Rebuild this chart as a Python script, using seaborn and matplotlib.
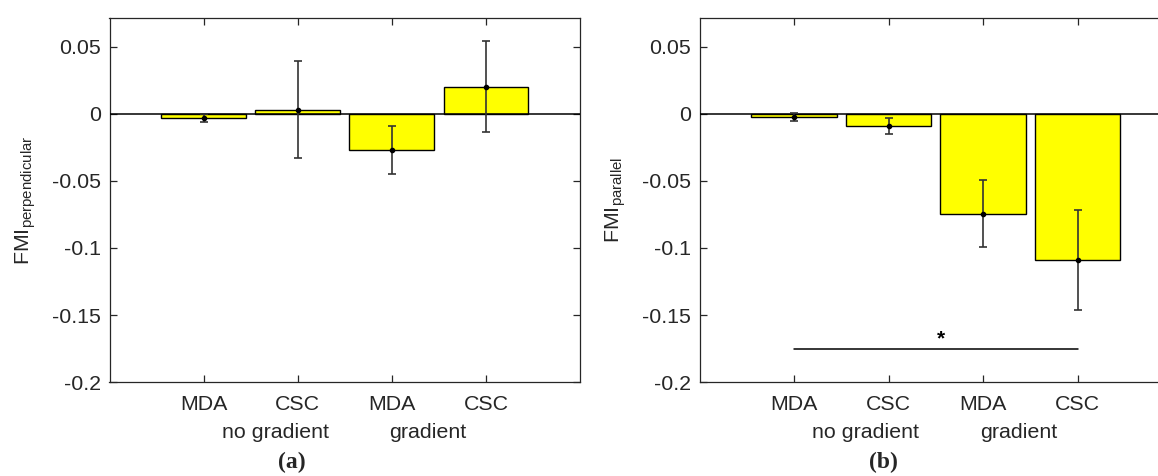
import matplotlib
matplotlib.use("Agg")
import matplotlib.pyplot as plt
import matplotlib.transforms as mtransforms
import seaborn as sns
import pandas as pd

# ---- data ----
conditions = ["MDA no gradient", "CSC no gradient", "MDA gradient", "CSC gradient"]
tick_labels = ["MDA", "CSC", "MDA", "CSC"]
group_labels = ["no gradient", "gradient"]
perp_mean = [-0.003, 0.003, -0.027, 0.020]
perp_err = [0.003, 0.036, 0.018, 0.034]
par_mean = [-0.0025, -0.009, -0.0745, -0.109]
par_err = [0.003, 0.0058, 0.025, 0.037]
ytick_vals = [0.05, 0, -0.05, -0.1, -0.15, -0.2]
ytick_text = ["0.05", "0", "-0.05", "-0.1", "-0.15", "-0.2"]
sig_span = (0, 3)
sig_y = -0.175
panel_labels = ["(a)", "(b)"]
ylabels = [r"FMI$_{\mathregular{perpendicular}}$", r"FMI$_{\mathregular{parallel}}$"]

sns.set_style("white")
plt.rcParams["font.family"] = ["Liberation Sans", "DejaVu Sans"]
plt.rcParams["mathtext.fontset"] = "custom"
plt.rcParams["mathtext.rm"] = "Liberation Sans"

W, H = 1158, 476
fig = plt.figure(figsize=(W / 100, H / 100), dpi=100)

def px_axes(l, r, t, b):
    return [l / W, 1 - b / H, (r - l) / W, (b - t) / H]

ax_a = fig.add_axes(px_axes(109.5, 580, 18.3, 382.3))
ax_b = fig.add_axes(px_axes(699.5, 1172, 18.3, 382.3))

fs = 15.4
txt_col = "#262626"
for i, (ax, means, errs) in enumerate([(ax_a, perp_mean, perp_err), (ax_b, par_mean, par_err)]):
    df = pd.DataFrame({"cond": conditions, "val": means})
    sns.barplot(data=df, x="cond", y="val", order=conditions, color="#ffff00",
                saturation=1, width=0.9, edgecolor="black", linewidth=1.0,
                errorbar=None, ax=ax, zorder=2)
    ax.axhline(0, color="black", lw=1.1, zorder=3)
    ax.errorbar(range(len(conditions)), means, yerr=errs, fmt="o", color="black",
                ecolor="#333333", elinewidth=1.2, capsize=3, capthick=1.2,
                markersize=3, zorder=4)
    ax.set_xlim(-1, 4)
    ax.set_ylim(-0.2, 0.071)
    ax.set_yticks(ytick_vals)
    ax.set_yticklabels(ytick_text)
    ax.set_xticks(range(len(conditions)))
    ax.set_xticklabels(tick_labels)
    ax.set_xlabel("")
    ax.set_ylabel(ylabels[i], fontsize=fs, color=txt_col, labelpad=10)
    ax.tick_params(axis="both", direction="in", length=5, width=0.9, colors=txt_col,
                   labelsize=fs, top=True, right=True, bottom=True, left=True)
    ax.tick_params(axis="x", pad=9)
    ax.tick_params(axis="y", pad=6)
    for s in ax.spines.values():
        s.set_visible(True)
        s.set_color(txt_col)
        s.set_linewidth(0.9)
    trans = mtransforms.blended_transform_factory(ax.transData, fig.transFigure)
    fig.text(0.76, 1 - 432 / H, group_labels[0], transform=trans, ha="center", va="center",
             fontsize=fs, color=txt_col)
    fig.text(2.38, 1 - 432 / H, group_labels[1], transform=trans, ha="center", va="center",
             fontsize=fs, color=txt_col)

# significance bar on panel b
ax_b.plot(sig_span, [sig_y, sig_y], color="black", lw=1.1, zorder=4)
ax_b.text((sig_span[0] + sig_span[1]) / 2 + 0.05, sig_y + 0.0005, "*", ha="center", va="bottom",
          fontsize=15, fontweight="bold", color="black")

fig.text(292 / W, 1 - 462 / H, panel_labels[0], ha="center", va="center", fontsize=17,
         family=["Liberation Serif", "DejaVu Serif"], fontweight="bold")
fig.text(883 / W, 1 - 462 / H, panel_labels[1], ha="center", va="center", fontsize=17,
         family=["Liberation Serif", "DejaVu Serif"], fontweight="bold")

fig.savefig("out.png", dpi=100)
